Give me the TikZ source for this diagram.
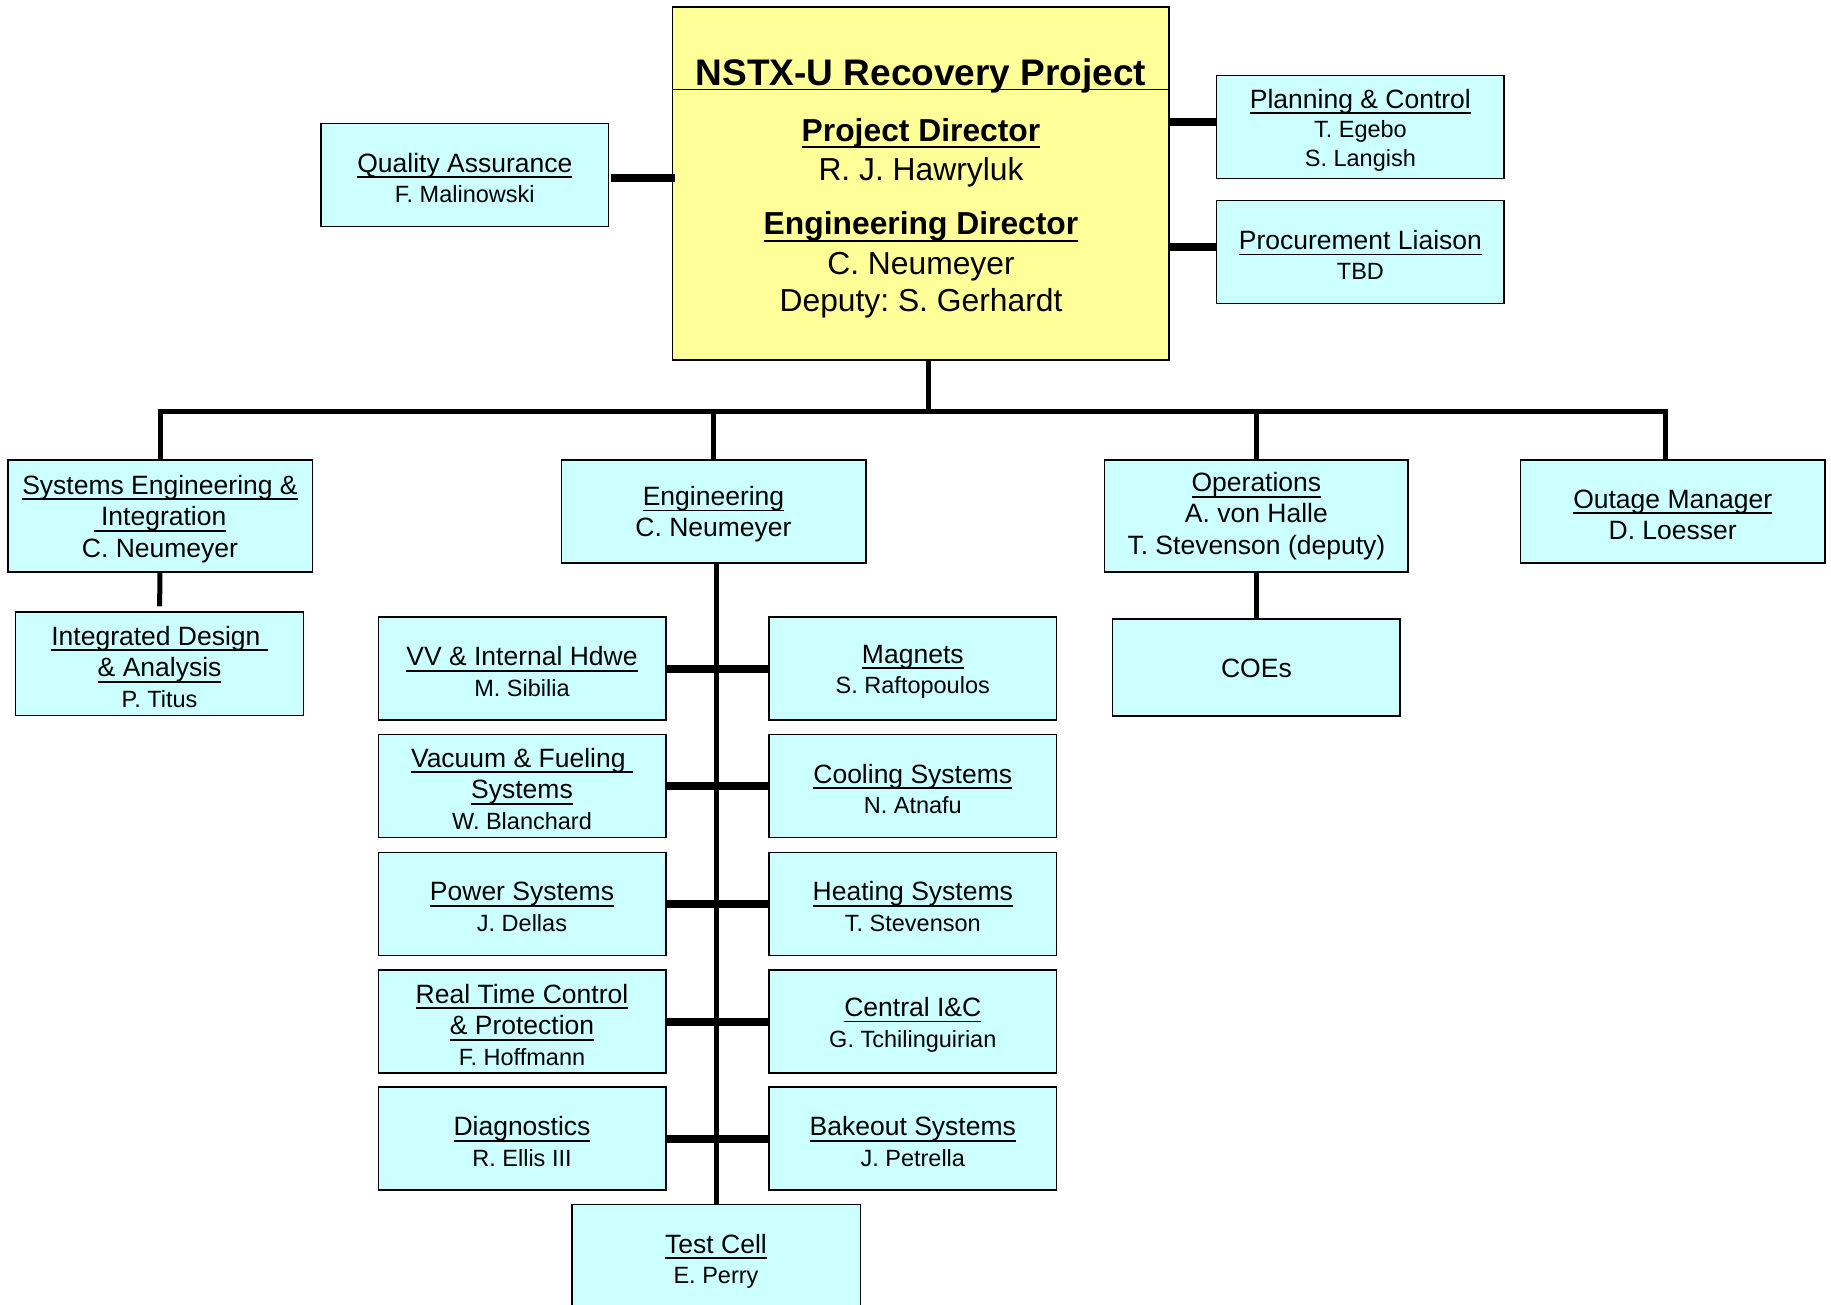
\documentclass[tikz,border=0pt]{standalone}
\usepackage{fontspec}
\setmainfont{Liberation Sans}
\definecolor{boxcyan}{HTML}{CCFFFF}
\definecolor{boxyellow}{HTML}{FFFF99}
\newcommand\fsL{\fontsize{26.5}{31.5}\selectfont}
\newcommand\fsS{\fontsize{23.5}{31.5}\selectfont}
\newcommand\ulh[1]{\leavevmode\setbox0\hbox{#1}\rlap{\rule[-0.225em]{\wd0}{0.07em}}\box0}
\newcommand\fst[1][25]{\rule{0pt}{#1pt}}
\frenchspacing
\begin{document}
\frenchspacing
\begin{tikzpicture}[x=1pt,y=-1pt,
  box/.style={draw=black, line width=1.5pt, fill=boxcyan, inner sep=0pt, align=center, font=\fsL\frenchspacing},
  sbox/.style={box, minimum width=287.5pt, minimum height=103pt},
  wbox/.style={box, minimum width=304.5pt, minimum height=103pt},
  ybox/.style={draw=black, line width=1.5pt, fill=boxyellow, inner sep=0pt},
  thinconn/.style={line width=5pt},
  thickconn/.style={line width=8pt},
  ytext/.style={anchor=base, inner sep=0pt, font=\fontsize{31.8}{36}\selectfont\frenchspacing}
]
\useasboundingbox[fill=white] (0,0) rectangle (1831,1305);

% central yellow box
\node[ybox, minimum width=496.3pt, minimum height=353pt] (ny) at (920.8,183.5) {};
\coordinate (tl) at (0,89.3);
\draw[line width=1.5pt] (ny.west |- tl) -- (ny.east |- tl);
\node[anchor=base, inner sep=0pt, font=\fontsize{37}{40}\selectfont\bfseries] (title) at (921,86) {NSTX-U Recovery Project};
\node[ytext, font=\fontsize{31.8}{36}\selectfont\bfseries] (pdh) at (921,141.3) {\ulh{Project Director}};
\node[ytext] (pdn) at (921,180.3) {R. J. Hawryluk};
\node[ytext, font=\fontsize{31.8}{36}\selectfont\bfseries] (edh) at (921,234.6) {\ulh{Engineering Director}};
\node[ytext] (edn) at (921,275) {C. Neumeyer};
\node[ytext] (edd) at (921,311.3) {Deputy: S. Gerhardt};

% side boxes
\node[sbox] (qa) at (464.8,175.2) {\fst\ulh{Quality Assurance}\\[-1pt]{\fsS F. Malinowski}};
\node[sbox] (pc) at (1360.4,127.2) {\fst\ulh{Planning \& Control}\\[-2.3pt]{\fsS T. Egebo}\\[-2.3pt]{\fsS S. Langish}};
\node[sbox] (pl) at (1360.4,252.2) {\fst\ulh{Procurement Liaison}\\[-1pt]{\fsS TBD}};

\draw[thickconn] ([yshift=-3pt,xshift=2pt]qa.east) -- ([yshift=-3pt,xshift=3pt]qa.east -| ny.west);
\draw[thickconn] ([yshift=5.5pt]pc.west -| ny.east) -- ([yshift=5.5pt]pc.west);
\draw[thickconn] ([yshift=5.5pt]pl.west -| ny.east) -- ([yshift=5.5pt]pl.west);

% second level
\node[wbox, minimum height=112pt] (se) at (160,516) {\fst\ulh{Systems Engineering \&}\\\ulh{\ Integration}\\C. Neumeyer};
\node[wbox] (eng) at (713.5,511.4) {\fst\ulh{Engineering}\\C. Neumeyer};
\node[wbox, minimum height=112pt, minimum width=303.6pt] (ops) at (1256.4,516) {\ulh{Operations}\\[-0.5pt]A. von Halle\\T. Stevenson (deputy)};
\node[wbox] (out) at (1672.7,511.4) {\fst\ulh{Outage Manager}\\D. Loesser};

% bus
\coordinate (bus) at (928.3,411.8);
\coordinate (bR) at (1665,411.8);
\draw[thinconn] (ny.south -| bus) -- (bus);
\draw[thinconn] (se.north) -- (se.north |- bus) -- (bR) -- (bR |- out.north);
\draw[thinconn] (eng.north |- bus) -- (eng.north);
\draw[thinconn] (ops.north |- bus) -- (ops.north);

% third level
\node[sbox, minimum width=288pt, minimum height=103.5pt] (idn) at (159.6,663.8) {\fst\ulh{Integrated Design\ }\\\ulh{\& Analysis}\\[-1pt]{\fsS P. Titus}};
\node[sbox, minimum height=97pt] (coe) at (1256.4,667.3) {\fst[21]COEs};
\draw[thinconn] (se.south) -- ([yshift=5pt]idn.north);
\draw[thinconn] (ops.south) -- (coe.north);

% engineering groups
\node[sbox] (l1) at (522,668.5) {\fst\ulh{VV \& Internal Hdwe}\\[-1pt]{\fsS M. Sibilia}};
\node[sbox] (r1) at (912.8,668.5) {\fst\ulh{Magnets}\\[-1pt]{\fsS S. Raftopoulos}};
\node[sbox] (l2) at (522,785.9) {\fst\ulh{Vacuum \& Fueling\ }\\\ulh{Systems}\\[-1pt]{\fsS W. Blanchard}};
\node[sbox] (r2) at (912.8,785.9) {\fst\ulh{Cooling Systems}\\[-1pt]{\fsS N. Atnafu}};
\node[sbox] (l3) at (522,903.8) {\fst\ulh{Power Systems}\\[-1pt]{\fsS J. Dellas}};
\node[sbox] (r3) at (912.8,903.8) {\fst\ulh{Heating Systems}\\[-1pt]{\fsS T. Stevenson}};
\node[sbox] (l4) at (522,1021.7) {\fst\ulh{Real Time Control}\\\ulh{\& Protection}\\[-1pt]{\fsS F. Hoffmann}};
\node[sbox] (r4) at (912.8,1021.7) {\fst\ulh{Central I\&C}\\[-1pt]{\fsS G. Tchilinguirian}};
\node[sbox] (l5) at (522,1138.5) {\fst\ulh{Diagnostics}\\[-1pt]{\fsS R. Ellis III}};
\node[sbox] (r5) at (912.8,1138.5) {\fst\ulh{Bakeout Systems}\\[-1pt]{\fsS J. Petrella}};
\node[sbox, minimum width=288.5pt] (tc) at (716,1255.8) {\fst[30]\ulh{Test Cell}\\[-1pt]{\fsS E. Perry}};

\draw[thinconn] (tc.north |- eng.south) -- (tc.north);
\foreach \i in {1,...,5}{
  \draw[thickconn] (l\i.east) -- (r\i.west);
}
\end{tikzpicture}
\end{document}
